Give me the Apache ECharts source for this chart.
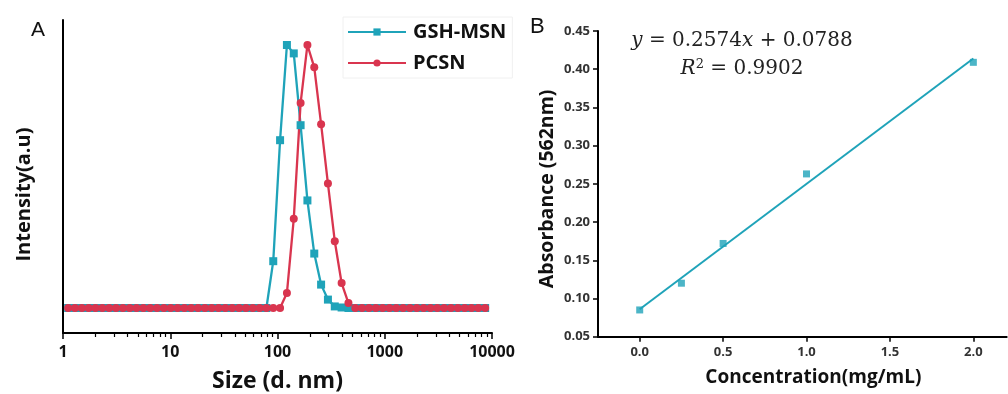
<!DOCTYPE html>
<html><head><meta charset="utf-8">
<script src="https://cdn.jsdelivr.net/npm/echarts@6/dist/echarts.min.js"></script>
<style>html,body{margin:0;padding:0;background:#fff}#c{width:1008px;height:394px}</style>
</head><body><div id="c"></div>
<script>
// Panel A: DLS size distribution
const sizes = [1.117,1.294,1.499,1.736,2.01,2.328,2.696,3.122,3.615,4.187,4.849,5.615,6.503,7.531,8.721,
  10.1,11.7,13.54,15.69,18.17,21.04,24.36,28.21,32.67,37.84,43.82,50.75,58.77,68.06,78.82,
  91.28,105.7,122.4,141.8,164.2,190.1,220.2,255.0,295.3,342.0,396.1,458.7,531.2,615.1,712.4,825.0,955.4,
  1106,1281,1484,1718,1990,2305,2669,3091,3580,4145,4801,5560,6439,7456,8635];
const gshMsn = [0,0,0,0,0,0,0,0,0,0,0,0,0,0,0,0,0,0,0,0,0,0,0,0,0,0,0,0,0,0,
  17.8,63.8,100,96.8,69.5,40.9,20.7,8.9,3.2,0.6,0.2,
  0,0,0,0,0,0,0,0,0,0,0,0,0,0,0,0,0,0,0,0,0];
const pcsn = [0,0,0,0,0,0,0,0,0,0,0,0,0,0,0,0,0,0,0,0,0,0,0,0,0,0,0,0,0,0,0,0,
  5.7,33.9,77.9,100,91.5,69.9,47.3,25.4,9.5,1.9,
  0,0,0,0,0,0,0,0,0,0,0,0,0,0,0,0,0,0,0,0];
const sizeMinorTicks = [2,3,4,5,6,7,8,9,20,30,40,50,60,70,80,90,200,300,400,500,600,700,800,900,2000,3000,4000,5000,6000,7000,8000,9000];

// Panel B: calibration
const conc = [0, 0.25, 0.5, 1.0, 2.0];
const absorbance = [0.085, 0.120, 0.172, 0.263, 0.409];
const fitX = [0, 2.0];
const fitY = [0.086, 0.414];
const concTicks = [0, 0.5, 1.0, 1.5, 2.0];

const TEAL = '#1fa3b9', RED = '#d9354f';
const FONT = 'Open Sans';

const chart = echarts.init(document.getElementById('c'), null, {renderer:'canvas'});
const zip = (a,b) => a.map((v,i)=>[v,b[i]]);

chart.setOption({
  animation:false,
  backgroundColor:'#fff',
  grid:[
    {left:63, top:20, right:516, bottom:61, outerBoundsMode:'none', containLabel:false},
    {left:598, top:31, right:1.3, bottom:57.3, outerBoundsMode:'none', containLabel:false}
  ],
  legend:{
    orient:'vertical', left:343, top:17, padding:[5,6,5,4],
    borderColor:'#f0f0f0', borderWidth:1,
    itemWidth:58, itemHeight:9, itemGap:11,
    textStyle:{fontFamily:FONT, fontWeight:'bold', fontSize:20, color:'#111', padding:[0,0,0,2]},
    data:['GSH-MSN','PCSN']
  },
  xAxis:[
    {gridIndex:0, type:'log', logBase:10, min:1, max:10000, position:'bottom',
     axisLine:{onZero:false, lineStyle:{color:'#000', width:2}},
     axisTick:{length:6, lineStyle:{color:'#000', width:1.5}},
     axisLabel:{formatter:v=>String(Math.round(v)), fontFamily:FONT, fontWeight:'bold', fontSize:16, color:'#111', margin:11},
     splitLine:{show:false},
     name:'Size (d. nm)', nameLocation:'middle', nameGap:37,
     nameTextStyle:{fontFamily:FONT, fontWeight:'bold', fontSize:23, color:'#111'}},
    {gridIndex:0, type:'log', logBase:10, min:1, max:10000, position:'bottom',
     axisLine:{show:false, onZero:false},
     axisTick:{length:4, customValues:sizeMinorTicks, lineStyle:{color:'#000', width:1.2}},
     axisLabel:{show:false}, splitLine:{show:false}},
    {gridIndex:1, type:'value', min:-0.25, max:2.2,
     axisLine:{onZero:false, lineStyle:{color:'#000', width:2}},
     axisTick:{length:5, customValues:concTicks, lineStyle:{color:'#000', width:1.5}},
     axisLabel:{customValues:concTicks, formatter:v=>v.toFixed(1), fontFamily:FONT, fontWeight:'bold', fontSize:13, color:'#333', margin:9},
     splitLine:{show:false},
     name:'Concentration(mg/mL)', nameLocation:'middle', nameGap:31,
     nameTextStyle:{fontFamily:FONT, fontWeight:'bold', fontSize:19, color:'#111', padding:[0,0,0,22]}}
  ],
  yAxis:[
    {gridIndex:0, type:'value', min:-9.5, max:109.5,
     axisLine:{show:true, onZero:false, lineStyle:{color:'#000', width:2}},
     axisTick:{show:false}, axisLabel:{show:false}, splitLine:{show:false},
     name:'Intensity(a.u)', nameLocation:'middle', nameGap:29,
     nameTextStyle:{fontFamily:FONT, fontWeight:'bold', fontSize:20, color:'#111', padding:[0,36,0,0]}},
    {gridIndex:1, type:'value', min:0.05, max:0.45, interval:0.05,
     axisLine:{show:true, onZero:false, lineStyle:{color:'#000', width:2}},
     axisTick:{show:true, length:5, lineStyle:{color:'#000', width:1.5}},
     axisLabel:{formatter:v=>v.toFixed(2), fontFamily:FONT, fontWeight:'bold', fontSize:13, color:'#333', margin:8},
     splitLine:{show:false},
     name:'Absorbance (562nm)', nameLocation:'middle', nameGap:41,
     nameTextStyle:{fontFamily:FONT, fontWeight:'bold', fontSize:19.5, color:'#111', padding:[0,10,0,0]}}
  ],
  series:[
    {name:'GSH-MSN', type:'line', xAxisIndex:0, yAxisIndex:0, data:zip(sizes,gshMsn),
     symbol:'rect', symbolSize:8, color:TEAL, lineStyle:{width:2.3, color:TEAL}, itemStyle:{color:TEAL}, clip:false},
    {name:'PCSN', type:'line', xAxisIndex:0, yAxisIndex:0, data:zip(sizes,pcsn),
     symbol:'circle', symbolSize:8, color:RED, lineStyle:{width:2.3, color:RED}, itemStyle:{color:RED}, clip:false},
    {name:'fit', type:'line', xAxisIndex:2, yAxisIndex:1, data:zip(fitX,fitY),
     symbol:'none', lineStyle:{width:2, color:TEAL}},
    {name:'data', type:'scatter', xAxisIndex:2, yAxisIndex:1, data:zip(conc,absorbance),
     symbol:'rect', symbolSize:7, itemStyle:{color:TEAL}}
  ],
  graphic:[
    {type:'text', left:31, top:20, style:{text:'A', font:'21px "Liberation Sans"', fill:'#111'}},
    {type:'text', left:530, top:16, style:{text:'B', font:'22px "Liberation Sans"', fill:'#111'}},
    {type:'text', x:742, y:41, style:{
      text:'{i|y} = 0.2574{i|x} + 0.0788', align:'center', verticalAlign:'middle',
      font:'20px "DejaVu Serif"', fill:'#222',
      rich:{i:{fontFamily:'DejaVu Serif', fontStyle:'italic', fontSize:20, fill:'#222'}}}},
    {type:'text', x:742, y:69, style:{
      text:'{i|R}{s|2} = 0.9902', align:'center', verticalAlign:'middle',
      font:'20px "DejaVu Serif"', fill:'#222',
      rich:{i:{fontFamily:'DejaVu Serif', fontStyle:'italic', fontSize:20, fill:'#222'},
            s:{fontFamily:'DejaVu Serif', fontSize:13, verticalAlign:'top', padding:[0,0,8,0], fill:'#222'}}}}
  ]
});
</script></body></html>
